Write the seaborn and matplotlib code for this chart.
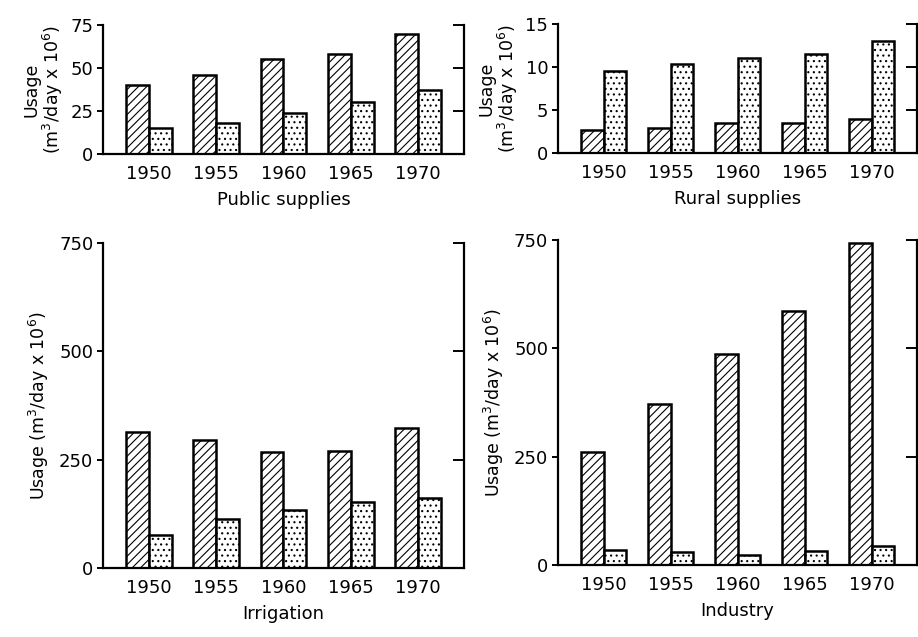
"""
Water usage by sector, 1950-1970 — two sources per year (hatched / stippled bars).
Four panels: public supplies, rural supplies, irrigation, industry.
"""

import matplotlib

matplotlib.use("Agg")
import matplotlib.pyplot as plt
import pandas as pd
import seaborn as sns

# ── Data ─────────────────────────────────────────────────────────────────────
years = ["1950", "1955", "1960", "1965", "1970"]
sources = ["Surface water", "Ground water"]

public_surface = [40, 46, 55, 58, 70]
public_ground = [15, 18, 24, 30, 37]

rural_surface = [2.7, 2.9, 3.5, 3.5, 3.9]
rural_ground = [9.5, 10.3, 11.1, 11.5, 13.0]

irrigation_surface = [314, 295, 268, 270, 322]
irrigation_ground = [76, 114, 134, 152, 161]

industry_surface = [261, 371, 488, 586, 742]
industry_ground = [35, 31, 23, 32, 44]

sectors = ["Public supplies", "Rural supplies", "Irrigation", "Industry"]
sector_values = {
    "Public supplies": (public_surface, public_ground),
    "Rural supplies": (rural_surface, rural_ground),
    "Irrigation": (irrigation_surface, irrigation_ground),
    "Industry": (industry_surface, industry_ground),
}
y_ticks = {
    "Public supplies": [0, 25, 50, 75],
    "Rural supplies": [0, 5, 10, 15],
    "Irrigation": [0, 250, 500, 750],
    "Industry": [0, 250, 500, 750],
}

rows = []
for sector in sectors:
    for src, vals in zip(sources, sector_values[sector]):
        for yr, v in zip(years, vals):
            rows.append({"sector": sector, "source": src, "year": yr, "usage": v})
df = pd.DataFrame(rows)

# ── Style ─────────────────────────────────────────────────────────────────────
sns.set_style("white")
plt.rcParams["font.family"] = ["DejaVu Sans"]
plt.rcParams["hatch.linewidth"] = 0.8
plt.rcParams["axes.linewidth"] = 1.6
for key in ("text.color", "axes.labelcolor", "xtick.color", "ytick.color",
            "axes.edgecolor"):
    plt.rcParams[key] = "black"

fig = plt.figure(figsize=(9.18, 6.37), dpi=100)

# axes boxes in figure fractions [left, bottom, width, height]
boxes = {
    "Public supplies": [0.1122, 0.7582, 0.3932, 0.2026],
    "Rural supplies": [0.6078, 0.7598, 0.3912, 0.2025],
    "Irrigation": [0.1122, 0.1083, 0.3932, 0.5102],
    "Industry": [0.6078, 0.1130, 0.3912, 0.5102],
}
hatches = ["////", "..."]

for sector in sectors:
    ax = fig.add_axes(boxes[sector])
    sub = df[df["sector"] == sector]
    sns.barplot(
        data=sub,
        x="year",
        y="usage",
        hue="source",
        order=years,
        hue_order=sources,
        palette=["white", "white"],
        edgecolor="black",
        linewidth=1.8,
        width=0.68,
        saturation=1,
        ax=ax,
        legend=False,
    )
    for cont, h in zip(ax.containers, hatches):
        for bar in cont:
            bar.set_hatch(h)

    ticks = y_ticks[sector]
    ax.set_ylim(0, ticks[-1])
    ax.set_xlim(-0.68, 4.68)
    ax.set_yticks(ticks)
    ax.set_yticklabels([str(t) for t in ticks])

    small = sector in ("Public supplies", "Rural supplies")
    if small:
        ax.set_ylabel("Usage\n(m$^3$/day x 10$^6$)", fontsize=12.5, labelpad=4,
                      linespacing=1.0)
    else:
        ax.set_ylabel("Usage (m$^3$/day x 10$^6$)", fontsize=12.5, labelpad=6)
    ax.set_xlabel(sector, fontsize=13, labelpad=6)

    ax.tick_params(axis="x", length=0, labelsize=13, pad=8)
    ax.tick_params(axis="y", left=True, direction="out", length=4, width=1.4,
                   labelsize=13, pad=3)
    ax.spines["top"].set_visible(False)
    ax.spines["right"].set_visible(False)

    # right-hand axis: inward ticks, no labels
    ax2 = ax.twinx()
    ax2.set_ylim(ax.get_ylim())
    ax2.set_yticks(ticks)
    ax2.tick_params(axis="y", right=True, direction="in", length=8, width=1.4,
                    labelright=False)
    ax2.spines["top"].set_visible(False)
    ax2.spines["left"].set_visible(False)
    ax2.spines["bottom"].set_visible(False)
    ax2.grid(False)

fig.savefig("out.png", dpi=100)
print("Saved → out.png")
